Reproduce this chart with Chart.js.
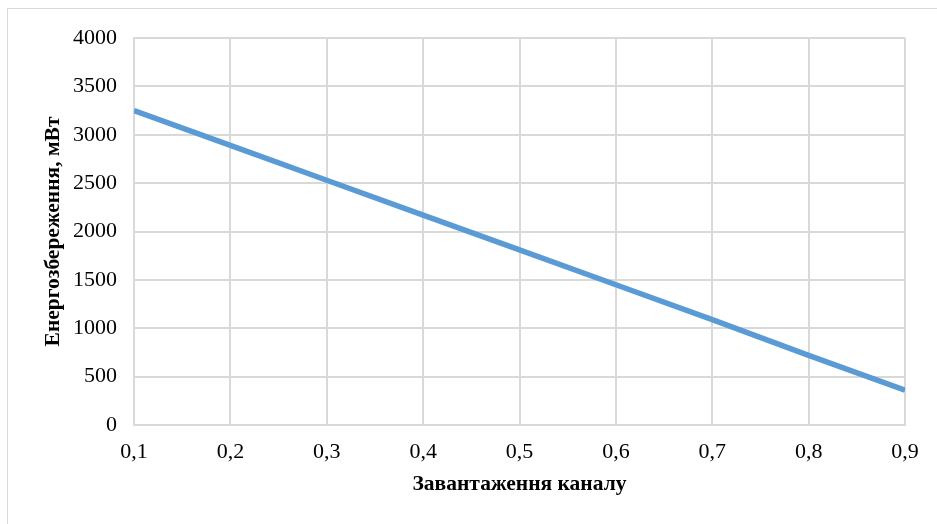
<!DOCTYPE html>
<html>
<head>
<meta charset="utf-8">
<script src="https://cdn.jsdelivr.net/npm/chart.js@4"></script>
<style>
    html, body { margin: 0; padding: 0; background: #fff; overflow: hidden; }
    .wrap { position: relative; width: 937px; height: 524px; overflow: hidden; }
    .frame { position: absolute; left: 7px; top: 8px; width: 960px; height: 560px; border: 1px solid #d9d9d9; }
    canvas { position: absolute; left: 0; top: 0; }
</style>
</head>
<body>
<div class="wrap">
    <div class="frame"></div>
    <canvas id="energyChart" width="937" height="524"></canvas>
</div>
<script>
const loadLevels = [0.1, 0.2, 0.3, 0.4, 0.5, 0.6, 0.7, 0.8, 0.9];
const energySaving = [3250, 2890, 2530, 2170, 1810, 1450, 1090, 720, 360];
const xTitle = 'Завантаження каналу';
const yTitle = 'Енергозбереження, мВт';

const fontFamily = '"Liberation Serif", "Times New Roman", serif';
const gridColor = '#d9d9d9';

new Chart(document.getElementById('energyChart'), {
    type: 'line',
    data: {
        datasets: [{
            data: loadLevels.map((x, i) => ({ x: x, y: energySaving[i] })),
            borderColor: '#5b9bd5',
            borderWidth: 5.5,
            pointRadius: 0,
            fill: false,
            tension: 0
        }]
    },
    options: {
        responsive: false,
        animation: false,
        layout: { padding: { left: 0, right: 32, top: 38, bottom: 0 } },
        plugins: { legend: { display: false }, tooltip: { enabled: false } },
        scales: {
            x: {
                type: 'linear',
                min: 0.1,
                max: 0.9,
                grid: { color: gridColor, lineWidth: 2, drawTicks: false },
                border: { color: gridColor, width: 2 },
                ticks: {
                    stepSize: 0.1,
                    padding: 14,
                    color: '#000',
                    font: { family: fontFamily, size: 22 },
                    callback: v => v.toFixed(1).replace('.', ',')
                },
                title: {
                    display: true,
                    text: xTitle,
                    color: '#000',
                    font: { family: fontFamily, size: 21.5, weight: 'bold' },
                    padding: { top: 10, bottom: 27 }
                },
                afterFit: scale => { scale.height = 99; }
            },
            y: {
                min: 0,
                max: 4000,
                grid: { color: gridColor, lineWidth: 2, drawTicks: false },
                border: { color: gridColor, width: 2 },
                ticks: {
                    stepSize: 500,
                    padding: 17,
                    color: '#000',
                    font: { family: fontFamily, size: 22 },
                    callback: v => String(v)
                },
                title: {
                    display: true,
                    text: yTitle,
                    color: '#000',
                    font: { family: fontFamily, size: 21.5, weight: 'bold' },
                    padding: { top: 41, bottom: 0 }
                },
                afterFit: scale => { scale.width = 134; }
            }
        }
    }
});
</script>
</body>
</html>
